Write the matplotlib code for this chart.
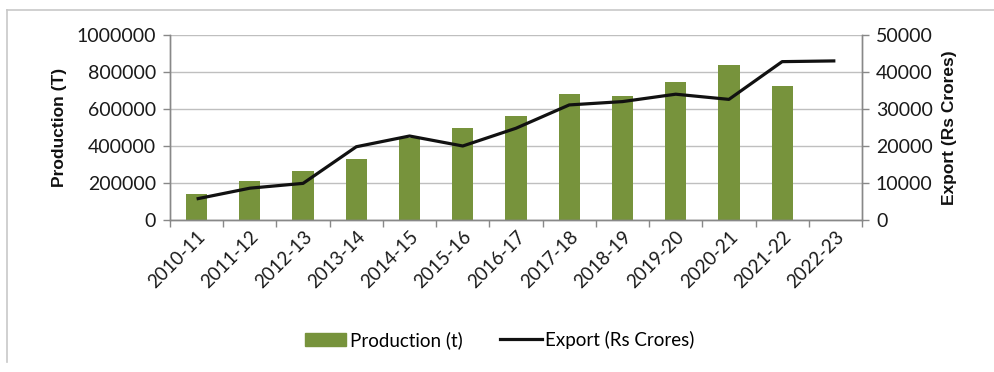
import matplotlib
matplotlib.use("Agg")
import matplotlib.pyplot as plt
from matplotlib.lines import Line2D
from matplotlib.ticker import FuncFormatter
import numpy as np

plt.rcParams['font.family'] = ['Lato', 'DejaVu Sans']

years = ["2010-11", "2011-12", "2012-13", "2013-14", "2014-15", "2015-16",
         "2016-17", "2017-18", "2018-19", "2019-20", "2020-21", "2021-22", "2022-23"]
production_t = [140000, 212000, 266000, 328000, 441000, 495000,
                564000, 681000, 670000, 744000, 838000, 724000, None]
export_rs_crores = [5700, 8600, 9900, 19800, 22700, 20000,
                    24800, 31100, 32000, 34000, 32600, 42800, 43000]

W, H = 995, 372
fig = plt.figure(figsize=(W / 100, H / 100), dpi=100)

ax = fig.add_axes([170 / W, 1 - 220 / H, (862 - 170) / W, (220 - 35) / H])
ax2 = ax.twinx()

x = np.arange(len(years))
prod_vals = [np.nan if v is None else v for v in production_t]
bar_color = "#77933C"
ax.bar(x, prod_vals, width=0.4, color=bar_color, zorder=2)
ax2.plot(x, export_rs_crores, color="#111111", lw=2.3, solid_capstyle="butt", zorder=3)

ax.set_xlim(-0.5, len(years) - 0.5)
ax.set_ylim(0, 1000000)
ax2.set_ylim(0, 50000)
ax.set_yticks(np.arange(0, 1000001, 200000))
ax2.set_yticks(np.arange(0, 50001, 10000))
plain = FuncFormatter(lambda v, p: f"{int(round(v))}")
ax.yaxis.set_major_formatter(plain)
ax2.yaxis.set_major_formatter(plain)
ax.yaxis.grid(True, color="#bfbfbf", lw=1.0, zorder=0)
ax.set_axisbelow(True)

ax.set_xticks(x)
ax.set_xticklabels(years, rotation=45, ha="right", rotation_mode="anchor", fontsize=13.5, color="#1a1a1a")
ax.tick_params(axis="x", length=0, pad=6)
# category boundary ticks
ax.set_xticks(np.arange(-0.5, len(years)), minor=True)
ax.tick_params(axis="x", which="minor", length=5, color="#888888", width=1)

ax.tick_params(axis="y", labelsize=14, colors="#1a1a1a", length=5, width=1, pad=5)
ax.tick_params(axis="y", color="#888888")
ax2.tick_params(axis="y", labelsize=14, colors="#1a1a1a", length=5, width=1, pad=5)
ax2.tick_params(axis="y", color="#888888")

for a in (ax, ax2):
    a.spines["top"].set_visible(False)
    for s in ("left", "right", "bottom"):
        a.spines[s].set_color("#888888")
        a.spines[s].set_linewidth(1)

label_font = dict(family=["Liberation Sans", "DejaVu Sans"], fontsize=12.5, fontweight="bold", color="#111111")
ax.set_ylabel("Production (T)", labelpad=7, **label_font)
ax2.set_ylabel("Export (Rs Crores)", labelpad=7, **label_font)

handles = [
    plt.Rectangle((0, 0), 1, 1, color=bar_color),
    Line2D([0], [0], color="#111111", lw=2.3),
]
fig.legend(handles, ["Production (t)", "Export (Rs Crores)"], loc="center",
           bbox_to_anchor=(500 / W, 1 - 340 / H), ncol=2, frameon=False,
           fontsize=13.5, handlelength=2.2, handletextpad=0.2, columnspacing=2.0)

# outer chart frame
fig.add_artist(Line2D([7 / W, 7 / W], [1 - 10 / H, 1 - 362 / H], color="#c8c8c8", lw=1.2, transform=fig.transFigure))
fig.add_artist(Line2D([7 / W, 1.0], [1 - 10 / H, 1 - 10 / H], color="#c8c8c8", lw=1.2, transform=fig.transFigure))

fig.savefig("out.png", dpi=100)
